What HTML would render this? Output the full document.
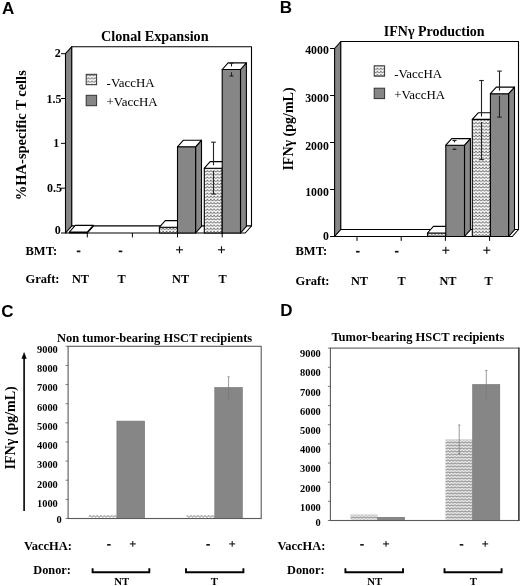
<!DOCTYPE html><html><head><meta charset="utf-8"><style>html,body{margin:0;padding:0;background:#fff;}svg{display:block;filter:grayscale(1);}</style></head><body>
<svg width="520" height="586" viewBox="0 0 520 586">
<defs>
<pattern id="wv" width="3.4" height="3.2" patternUnits="userSpaceOnUse"><rect width="3.4" height="3.2" fill="#fff"/><path d="M0,0.5 Q1.7,4.3 3.4,0.5" fill="none" stroke="#5a5a5a" stroke-width="0.85"/></pattern>
<pattern id="zz" width="3.5" height="3" patternUnits="userSpaceOnUse"><rect width="3.5" height="3" fill="#e6e6e6"/><path d="M0,0.8 L1.75,2.2 L3.5,0.8" fill="none" stroke="#707070" stroke-width="0.8"/></pattern>
<pattern id="zc" x="0" y="514.5" width="3.6" height="20" patternUnits="userSpaceOnUse"><rect width="3.6" height="20" fill="#fff"/><path d="M0,1.0 L1.8,2.8 L3.6,1.0" fill="none" stroke="#666" stroke-width="0.9"/></pattern>
</defs>
<rect width="520" height="586" fill="#fff"/>
<text x="2.1" y="13.7" font-family='"Liberation Sans", sans-serif' font-size="17" font-weight="bold" text-anchor="start" >A</text>
<text x="279.8" y="13.2" font-family='"Liberation Sans", sans-serif' font-size="17" font-weight="bold" text-anchor="start" >B</text>
<text x="1.3" y="317.2" font-family='"Liberation Sans", sans-serif' font-size="17" font-weight="bold" text-anchor="start" >C</text>
<text x="280.2" y="316.4" font-family='"Liberation Sans", sans-serif' font-size="17" font-weight="bold" text-anchor="start" >D</text>
<polygon points="65.5,53.7 71.8,46.7 71.8,226 65.5,233" fill="#868686" stroke="#000" stroke-width="1.1" stroke-linejoin="round" />
<polygon points="71.8,46.7 251.5,46.7 251.5,226 71.8,226" fill="#fff" stroke="#000" stroke-width="1.1" stroke-linejoin="round" />
<polygon points="65.5,233 71.8,226 251.5,226 245.2,233" fill="#fff" stroke="#000" stroke-width="1.1" stroke-linejoin="round" />
<line x1="61" y1="233" x2="65.5" y2="233" stroke="#000" stroke-width="1"/>
<text x="60.7" y="234.31" font-family='"Liberation Serif", serif' font-size="12.0" font-weight="bold" text-anchor="end" >0</text>
<line x1="61" y1="188.18" x2="65.5" y2="188.18" stroke="#000" stroke-width="1"/>
<text x="62.1" y="192.21" font-family='"Liberation Serif", serif' font-size="12.0" font-weight="bold" text-anchor="end" >0.5</text>
<line x1="61" y1="143.35" x2="65.5" y2="143.35" stroke="#000" stroke-width="1"/>
<text x="59.3" y="147.11" font-family='"Liberation Serif", serif' font-size="12.0" font-weight="bold" text-anchor="end" >1</text>
<line x1="61" y1="98.52" x2="65.5" y2="98.52" stroke="#000" stroke-width="1"/>
<text x="61.4" y="103.01" font-family='"Liberation Serif", serif' font-size="12.0" font-weight="bold" text-anchor="end" >1.5</text>
<line x1="61" y1="53.7" x2="65.5" y2="53.7" stroke="#000" stroke-width="1"/>
<text x="60.7" y="57.41" font-family='"Liberation Serif", serif' font-size="12.0" font-weight="bold" text-anchor="end" >2</text>
<line x1="87.3" y1="233" x2="87.3" y2="237.4" stroke="#000" stroke-width="1"/>
<line x1="132.4" y1="233" x2="132.4" y2="237.4" stroke="#000" stroke-width="1"/>
<line x1="177.5" y1="233" x2="177.5" y2="237.4" stroke="#000" stroke-width="1"/>
<line x1="222.2" y1="233" x2="222.2" y2="237.4" stroke="#000" stroke-width="1"/>
<polygon points="87.3,233 93.2,226.4 93.2,225.4 87.3,232" fill="url(#wv)" stroke="#000" stroke-width="1.1" stroke-linejoin="round" />
<polygon points="69.4,233 87.3,233 87.3,232 69.4,232" fill="url(#wv)" stroke="#000" stroke-width="1.1" stroke-linejoin="round" />
<polygon points="69.4,232 87.3,232 93.2,225.4 75.3,225.4" fill="#fff" stroke="#000" stroke-width="1.1" stroke-linejoin="round" />
<polygon points="177.5,233 183.4,226.4 183.4,220.6 177.5,227.2" fill="url(#wv)" stroke="#000" stroke-width="1.1" stroke-linejoin="round" />
<polygon points="159.4,233 177.5,233 177.5,227.2 159.4,227.2" fill="url(#wv)" stroke="#000" stroke-width="1.1" stroke-linejoin="round" />
<polygon points="159.4,227.2 177.5,227.2 183.4,220.6 165.3,220.6" fill="#fff" stroke="#000" stroke-width="1.1" stroke-linejoin="round" />
<polygon points="195.6,233 201.5,226.4 201.5,140.2 195.6,146.8" fill="#888888" stroke="#000" stroke-width="1.1" stroke-linejoin="round" />
<polygon points="177.5,233 195.6,233 195.6,146.8 177.5,146.8" fill="#868686" stroke="#000" stroke-width="1.1" stroke-linejoin="round" />
<polygon points="177.5,146.8 195.6,146.8 201.5,140.2 183.4,140.2" fill="#fff" stroke="#000" stroke-width="1.1" stroke-linejoin="round" />
<polygon points="222.2,233 228.1,226.4 228.1,161.6 222.2,168.2" fill="url(#wv)" stroke="#000" stroke-width="1.1" stroke-linejoin="round" />
<polygon points="204.3,233 222.2,233 222.2,168.2 204.3,168.2" fill="url(#wv)" stroke="#000" stroke-width="1.1" stroke-linejoin="round" />
<polygon points="204.3,168.2 222.2,168.2 228.1,161.6 210.2,161.6" fill="#fff" stroke="#000" stroke-width="1.1" stroke-linejoin="round" />
<polygon points="240.5,233 246.4,226.4 246.4,62.9 240.5,69.5" fill="#888888" stroke="#000" stroke-width="1.1" stroke-linejoin="round" />
<polygon points="222.2,233 240.5,233 240.5,69.5 222.2,69.5" fill="#868686" stroke="#000" stroke-width="1.1" stroke-linejoin="round" />
<polygon points="222.2,69.5 240.5,69.5 246.4,62.9 228.1,62.9" fill="#fff" stroke="#000" stroke-width="1.1" stroke-linejoin="round" />
<line x1="213.5" y1="142.2" x2="213.5" y2="165.2" stroke="#222" stroke-width="1.1"/>
<line x1="213.5" y1="171" x2="213.5" y2="194" stroke="#222" stroke-width="1.1"/>
<line x1="211.2" y1="142.2" x2="215.8" y2="142.2" stroke="#222" stroke-width="1.1"/>
<line x1="211.2" y1="194" x2="215.8" y2="194" stroke="#222" stroke-width="1.1"/>
<line x1="231.5" y1="63.2" x2="231.5" y2="66.5" stroke="#222" stroke-width="1.1"/>
<line x1="231.5" y1="72.2" x2="231.5" y2="76" stroke="#222" stroke-width="1.1"/>
<line x1="229.5" y1="63.2" x2="233.5" y2="63.2" stroke="#222" stroke-width="1.1"/>
<line x1="229.5" y1="76" x2="233.5" y2="76" stroke="#222" stroke-width="1.1"/>
<polygon points="334.6,48.5 340.8,41.5 340.8,229.5 334.6,236.5" fill="#868686" stroke="#000" stroke-width="1.1" stroke-linejoin="round" />
<polygon points="340.8,41.5 518.5,41.5 518.5,229.5 340.8,229.5" fill="#fff" stroke="#000" stroke-width="1.1" stroke-linejoin="round" />
<polygon points="334.6,236.5 340.8,229.5 518.5,229.5 512.3,236.5" fill="#fff" stroke="#000" stroke-width="1.1" stroke-linejoin="round" />
<line x1="330.1" y1="236.5" x2="334.6" y2="236.5" stroke="#000" stroke-width="1"/>
<text x="328.8" y="239.79" font-family='"Liberation Serif", serif' font-size="11.8" font-weight="bold" text-anchor="end" >0</text>
<line x1="330.1" y1="189.5" x2="334.6" y2="189.5" stroke="#000" stroke-width="1"/>
<text x="328.8" y="196.14" font-family='"Liberation Serif", serif' font-size="11.8" font-weight="bold" text-anchor="end" >1000</text>
<line x1="330.1" y1="142.5" x2="334.6" y2="142.5" stroke="#000" stroke-width="1"/>
<text x="328.8" y="149.74" font-family='"Liberation Serif", serif' font-size="11.8" font-weight="bold" text-anchor="end" >2000</text>
<line x1="330.1" y1="95.5" x2="334.6" y2="95.5" stroke="#000" stroke-width="1"/>
<text x="328.8" y="101.94" font-family='"Liberation Serif", serif' font-size="11.8" font-weight="bold" text-anchor="end" >3000</text>
<line x1="330.1" y1="48.5" x2="334.6" y2="48.5" stroke="#000" stroke-width="1"/>
<text x="328.8" y="54.44" font-family='"Liberation Serif", serif' font-size="11.8" font-weight="bold" text-anchor="end" >4000</text>
<line x1="357" y1="236.5" x2="357" y2="240.9" stroke="#000" stroke-width="1"/>
<line x1="401.2" y1="236.5" x2="401.2" y2="240.9" stroke="#000" stroke-width="1"/>
<line x1="445.4" y1="236.5" x2="445.4" y2="240.9" stroke="#000" stroke-width="1"/>
<line x1="489.6" y1="236.5" x2="489.6" y2="240.9" stroke="#000" stroke-width="1"/>
<polygon points="445.8,236.5 451.7,229.9 451.7,226.4 445.8,233" fill="url(#wv)" stroke="#000" stroke-width="1.1" stroke-linejoin="round" />
<polygon points="427.5,236.5 445.8,236.5 445.8,233 427.5,233" fill="url(#wv)" stroke="#000" stroke-width="1.1" stroke-linejoin="round" />
<polygon points="427.5,233 445.8,233 451.7,226.4 433.4,226.4" fill="#fff" stroke="#000" stroke-width="1.1" stroke-linejoin="round" />
<polygon points="464.5,236.5 470.4,229.9 470.4,138.6 464.5,145.2" fill="#888888" stroke="#000" stroke-width="1.1" stroke-linejoin="round" />
<polygon points="445.8,236.5 464.5,236.5 464.5,145.2 445.8,145.2" fill="#868686" stroke="#000" stroke-width="1.1" stroke-linejoin="round" />
<polygon points="445.8,145.2 464.5,145.2 470.4,138.6 451.7,138.6" fill="#fff" stroke="#000" stroke-width="1.1" stroke-linejoin="round" />
<polygon points="490.4,236.5 496.3,229.9 496.3,112.8 490.4,119.4" fill="url(#wv)" stroke="#000" stroke-width="1.1" stroke-linejoin="round" />
<polygon points="472.3,236.5 490.4,236.5 490.4,119.4 472.3,119.4" fill="url(#wv)" stroke="#000" stroke-width="1.1" stroke-linejoin="round" />
<polygon points="472.3,119.4 490.4,119.4 496.3,112.8 478.2,112.8" fill="#fff" stroke="#000" stroke-width="1.1" stroke-linejoin="round" />
<polygon points="508.6,236.5 514.5,229.9 514.5,87.1 508.6,93.7" fill="#888888" stroke="#000" stroke-width="1.1" stroke-linejoin="round" />
<polygon points="490.4,236.5 508.6,236.5 508.6,93.7 490.4,93.7" fill="#868686" stroke="#000" stroke-width="1.1" stroke-linejoin="round" />
<polygon points="490.4,93.7 508.6,93.7 514.5,87.1 496.3,87.1" fill="#fff" stroke="#000" stroke-width="1.1" stroke-linejoin="round" />
<line x1="454.5" y1="140.5" x2="454.5" y2="142.4" stroke="#222" stroke-width="1.1"/>
<line x1="454.5" y1="148.2" x2="454.5" y2="149.4" stroke="#222" stroke-width="1.1"/>
<line x1="452.5" y1="140.5" x2="456.5" y2="140.5" stroke="#222" stroke-width="1.1"/>
<line x1="452.5" y1="149.4" x2="456.5" y2="149.4" stroke="#222" stroke-width="1.1"/>
<line x1="481.5" y1="80.5" x2="481.5" y2="116.6" stroke="#222" stroke-width="1.1"/>
<line x1="481.5" y1="122" x2="481.5" y2="159.6" stroke="#222" stroke-width="1.1"/>
<line x1="479.2" y1="80.5" x2="483.8" y2="80.5" stroke="#222" stroke-width="1.1"/>
<line x1="479.2" y1="159.6" x2="483.8" y2="159.6" stroke="#222" stroke-width="1.1"/>
<line x1="499.5" y1="71.1" x2="499.5" y2="90.7" stroke="#222" stroke-width="1.1"/>
<line x1="499.5" y1="95.9" x2="499.5" y2="117.1" stroke="#222" stroke-width="1.1"/>
<line x1="497.2" y1="71.1" x2="501.8" y2="71.1" stroke="#222" stroke-width="1.1"/>
<line x1="497.2" y1="117.1" x2="501.8" y2="117.1" stroke="#222" stroke-width="1.1"/>
<text x="154.8" y="41.3" font-family='"Liberation Serif", serif' font-size="14.2" font-weight="bold" text-anchor="middle" >Clonal Expansion</text>
<text x="434.2" y="35.8" font-family='"Liberation Serif", serif' font-size="14" font-weight="bold" text-anchor="middle" >IFN&#947; Production</text>
<text x="0" y="0" font-family='"Liberation Serif", serif' font-size="14.5" font-weight="bold" text-anchor="middle" transform="translate(26.4,135.2) rotate(-90)">%HA-specific T cells</text>
<text x="0" y="0" font-family='"Liberation Serif", serif' font-size="14" font-weight="bold" text-anchor="middle" transform="translate(292.6,129.0) rotate(-90)">IFN&#947; (pg/mL)</text>
<rect x="86.2" y="74.3" width="10.4" height="10.4" fill="url(#wv)" stroke="#333" stroke-width="1"/>
<rect x="86.2" y="95.3" width="10.4" height="10.4" fill="#868686" stroke="#333" stroke-width="1"/>
<text x="106.6" y="86.7" font-family='"Liberation Serif", serif' font-size="12.9" font-weight="normal" text-anchor="start" >-VaccHA</text>
<text x="106.6" y="105.9" font-family='"Liberation Serif", serif' font-size="12.9" font-weight="normal" text-anchor="start" >+VaccHA</text>
<rect x="374.2" y="65.8" width="10.4" height="10.4" fill="url(#wv)" stroke="#333" stroke-width="1"/>
<rect x="374.2" y="88.2" width="10.4" height="10.4" fill="#868686" stroke="#333" stroke-width="1"/>
<text x="394.2" y="78" font-family='"Liberation Serif", serif' font-size="12.9" font-weight="normal" text-anchor="start" >-VaccHA</text>
<text x="394.2" y="98.7" font-family='"Liberation Serif", serif' font-size="12.9" font-weight="normal" text-anchor="start" >+VaccHA</text>
<text x="25.5" y="254.6" font-family='"Liberation Serif", serif' font-size="12.5" font-weight="bold" text-anchor="start" >BMT:</text>
<text x="25.5" y="283.4" font-family='"Liberation Serif", serif' font-size="12.5" font-weight="bold" text-anchor="start" >Graft:</text>
<text x="295.5" y="255.2" font-family='"Liberation Serif", serif' font-size="12.5" font-weight="bold" text-anchor="start" >BMT:</text>
<text x="295.5" y="285.4" font-family='"Liberation Serif", serif' font-size="12.5" font-weight="bold" text-anchor="start" >Graft:</text>
<rect x="76.8" y="250.55" width="3.6" height="1.7" fill="#111"/>
<rect x="118.7" y="250.55" width="3.6" height="1.7" fill="#111"/>
<rect x="356" y="250.85" width="3.6" height="1.7" fill="#111"/>
<rect x="394.9" y="250.85" width="3.6" height="1.7" fill="#111"/>
<line x1="176" y1="249.8" x2="183" y2="249.8" stroke="#111" stroke-width="1.15"/>
<line x1="179.5" y1="246.3" x2="179.5" y2="253.3" stroke="#111" stroke-width="1.15"/>
<line x1="218" y1="249.8" x2="225" y2="249.8" stroke="#111" stroke-width="1.15"/>
<line x1="221.5" y1="246.3" x2="221.5" y2="253.3" stroke="#111" stroke-width="1.15"/>
<line x1="442.3" y1="250.2" x2="449.3" y2="250.2" stroke="#111" stroke-width="1.15"/>
<line x1="445.8" y1="246.7" x2="445.8" y2="253.7" stroke="#111" stroke-width="1.15"/>
<line x1="483.3" y1="250.2" x2="490.3" y2="250.2" stroke="#111" stroke-width="1.15"/>
<line x1="486.8" y1="246.7" x2="486.8" y2="253.7" stroke="#111" stroke-width="1.15"/>
<text x="80.5" y="283.4" font-family='"Liberation Serif", serif' font-size="12.3" font-weight="bold" text-anchor="middle" >NT</text>
<text x="121.7" y="283.4" font-family='"Liberation Serif", serif' font-size="12.3" font-weight="bold" text-anchor="middle" >T</text>
<text x="180.6" y="283.4" font-family='"Liberation Serif", serif' font-size="12.3" font-weight="bold" text-anchor="middle" >NT</text>
<text x="222.7" y="283.4" font-family='"Liberation Serif", serif' font-size="12.3" font-weight="bold" text-anchor="middle" >T</text>
<text x="359.5" y="285.2" font-family='"Liberation Serif", serif' font-size="12.3" font-weight="bold" text-anchor="middle" >NT</text>
<text x="401.5" y="285.2" font-family='"Liberation Serif", serif' font-size="12.3" font-weight="bold" text-anchor="middle" >T</text>
<text x="448" y="285.2" font-family='"Liberation Serif", serif' font-size="12.3" font-weight="bold" text-anchor="middle" >NT</text>
<text x="488.5" y="285.2" font-family='"Liberation Serif", serif' font-size="12.3" font-weight="bold" text-anchor="middle" >T</text>
<rect x="68.1" y="346.3" width="193.1" height="172.2" fill="#fff" stroke="#5a5a5a" stroke-width="1.1"/>
<line x1="65.6" y1="518.5" x2="68.1" y2="518.5" stroke="#5a5a5a" stroke-width="0.8"/>
<line x1="65.6" y1="499.37" x2="68.1" y2="499.37" stroke="#5a5a5a" stroke-width="0.8"/>
<line x1="65.6" y1="480.23" x2="68.1" y2="480.23" stroke="#5a5a5a" stroke-width="0.8"/>
<line x1="65.6" y1="461.1" x2="68.1" y2="461.1" stroke="#5a5a5a" stroke-width="0.8"/>
<line x1="65.6" y1="441.97" x2="68.1" y2="441.97" stroke="#5a5a5a" stroke-width="0.8"/>
<line x1="65.6" y1="422.83" x2="68.1" y2="422.83" stroke="#5a5a5a" stroke-width="0.8"/>
<line x1="65.6" y1="403.7" x2="68.1" y2="403.7" stroke="#5a5a5a" stroke-width="0.8"/>
<line x1="65.6" y1="384.57" x2="68.1" y2="384.57" stroke="#5a5a5a" stroke-width="0.8"/>
<line x1="65.6" y1="365.43" x2="68.1" y2="365.43" stroke="#5a5a5a" stroke-width="0.8"/>
<line x1="65.6" y1="346.3" x2="68.1" y2="346.3" stroke="#5a5a5a" stroke-width="0.8"/>
<text x="61.6" y="522.5" font-family='"Liberation Serif", serif' font-size="10.4" font-weight="bold" text-anchor="end" >0</text>
<text x="57.8" y="506.86" font-family='"Liberation Serif", serif' font-size="10.4" font-weight="bold" text-anchor="end" >1000</text>
<text x="57.8" y="487.59" font-family='"Liberation Serif", serif' font-size="10.4" font-weight="bold" text-anchor="end" >2000</text>
<text x="57.8" y="468.32" font-family='"Liberation Serif", serif' font-size="10.4" font-weight="bold" text-anchor="end" >3000</text>
<text x="57.8" y="449.05" font-family='"Liberation Serif", serif' font-size="10.4" font-weight="bold" text-anchor="end" >4000</text>
<text x="57.8" y="429.78" font-family='"Liberation Serif", serif' font-size="10.4" font-weight="bold" text-anchor="end" >5000</text>
<text x="57.8" y="410.51" font-family='"Liberation Serif", serif' font-size="10.4" font-weight="bold" text-anchor="end" >6000</text>
<text x="57.8" y="391.24" font-family='"Liberation Serif", serif' font-size="10.4" font-weight="bold" text-anchor="end" >7000</text>
<text x="57.8" y="371.97" font-family='"Liberation Serif", serif' font-size="10.4" font-weight="bold" text-anchor="end" >8000</text>
<text x="57.8" y="352.7" font-family='"Liberation Serif", serif' font-size="10.4" font-weight="bold" text-anchor="end" >9000</text>
<rect x="88.75" y="512.8" width="28.15" height="5.7" fill="url(#zc)"/>
<rect x="116.9" y="421.1" width="27.7" height="97.4" fill="#868686" stroke="#6e6e6e" stroke-width="0.6"/>
<rect x="186.6" y="514.7" width="28.2" height="3.8" fill="url(#zc)"/>
<rect x="214.8" y="387.5" width="27.5" height="131" fill="#868686" stroke="#6e6e6e" stroke-width="0.6"/>
<line x1="228.6" y1="376.8" x2="228.6" y2="399.3" stroke="#7a7a7a" stroke-width="0.75"/>
<line x1="227.5" y1="376.8" x2="229.7" y2="376.8" stroke="#7a7a7a" stroke-width="0.75"/>
<line x1="227.5" y1="399.3" x2="229.7" y2="399.3" stroke="#7a7a7a" stroke-width="0.75"/>
<line x1="68.1" y1="518.5" x2="261.2" y2="518.5" stroke="#5a5a5a" stroke-width="1.2"/>
<rect x="330.4" y="348.1" width="188.4" height="172.4" fill="#fff" stroke="#5a5a5a" stroke-width="1.1"/>
<line x1="327.9" y1="520.5" x2="330.4" y2="520.5" stroke="#5a5a5a" stroke-width="0.8"/>
<line x1="327.9" y1="501.34" x2="330.4" y2="501.34" stroke="#5a5a5a" stroke-width="0.8"/>
<line x1="327.9" y1="482.19" x2="330.4" y2="482.19" stroke="#5a5a5a" stroke-width="0.8"/>
<line x1="327.9" y1="463.03" x2="330.4" y2="463.03" stroke="#5a5a5a" stroke-width="0.8"/>
<line x1="327.9" y1="443.88" x2="330.4" y2="443.88" stroke="#5a5a5a" stroke-width="0.8"/>
<line x1="327.9" y1="424.72" x2="330.4" y2="424.72" stroke="#5a5a5a" stroke-width="0.8"/>
<line x1="327.9" y1="405.57" x2="330.4" y2="405.57" stroke="#5a5a5a" stroke-width="0.8"/>
<line x1="327.9" y1="386.41" x2="330.4" y2="386.41" stroke="#5a5a5a" stroke-width="0.8"/>
<line x1="327.9" y1="367.26" x2="330.4" y2="367.26" stroke="#5a5a5a" stroke-width="0.8"/>
<line x1="327.9" y1="348.1" x2="330.4" y2="348.1" stroke="#5a5a5a" stroke-width="0.8"/>
<text x="320.8" y="526.3" font-family='"Liberation Serif", serif' font-size="10.4" font-weight="bold" text-anchor="end" >0</text>
<text x="320.8" y="510.69" font-family='"Liberation Serif", serif' font-size="10.4" font-weight="bold" text-anchor="end" >1000</text>
<text x="320.8" y="491.51" font-family='"Liberation Serif", serif' font-size="10.4" font-weight="bold" text-anchor="end" >2000</text>
<text x="320.8" y="472.33" font-family='"Liberation Serif", serif' font-size="10.4" font-weight="bold" text-anchor="end" >3000</text>
<text x="320.8" y="453.15" font-family='"Liberation Serif", serif' font-size="10.4" font-weight="bold" text-anchor="end" >4000</text>
<text x="320.8" y="433.97" font-family='"Liberation Serif", serif' font-size="10.4" font-weight="bold" text-anchor="end" >5000</text>
<text x="320.8" y="414.79" font-family='"Liberation Serif", serif' font-size="10.4" font-weight="bold" text-anchor="end" >6000</text>
<text x="320.8" y="395.61" font-family='"Liberation Serif", serif' font-size="10.4" font-weight="bold" text-anchor="end" >7000</text>
<text x="320.8" y="376.43" font-family='"Liberation Serif", serif' font-size="10.4" font-weight="bold" text-anchor="end" >8000</text>
<text x="320.8" y="357.25" font-family='"Liberation Serif", serif' font-size="10.4" font-weight="bold" text-anchor="end" >9000</text>
<rect x="350.5" y="514.7" width="27.2" height="5.8" fill="url(#zz)"/>
<rect x="377.7" y="517.3" width="26.9" height="3.2" fill="#868686" stroke="#6e6e6e" stroke-width="0.6"/>
<rect x="445.5" y="439.6" width="27.2" height="80.9" fill="url(#zz)"/>
<rect x="472.7" y="384.5" width="27.1" height="136" fill="#868686" stroke="#6e6e6e" stroke-width="0.6"/>
<line x1="459.2" y1="425" x2="459.2" y2="453.5" stroke="#7a7a7a" stroke-width="0.75"/>
<line x1="458.1" y1="425" x2="460.3" y2="425" stroke="#7a7a7a" stroke-width="0.75"/>
<line x1="458.1" y1="453.5" x2="460.3" y2="453.5" stroke="#7a7a7a" stroke-width="0.75"/>
<line x1="486.3" y1="370.5" x2="486.3" y2="398.8" stroke="#7a7a7a" stroke-width="0.75"/>
<line x1="485.2" y1="370.5" x2="487.4" y2="370.5" stroke="#7a7a7a" stroke-width="0.75"/>
<line x1="485.2" y1="398.8" x2="487.4" y2="398.8" stroke="#7a7a7a" stroke-width="0.75"/>
<line x1="330.4" y1="520.5" x2="518.8" y2="520.5" stroke="#5a5a5a" stroke-width="1.2"/>
<line x1="518.9" y1="347.6" x2="518.9" y2="521" stroke="#333" stroke-width="1.3"/>
<text x="154.6" y="341.5" font-family='"Liberation Serif", serif' font-size="12.5" font-weight="bold" text-anchor="middle" >Non tumor-bearing HSCT recipients</text>
<text x="417.9" y="341.3" font-family='"Liberation Serif", serif' font-size="12.5" font-weight="bold" text-anchor="middle" >Tumor-bearing HSCT recipients</text>
<line x1="24.1" y1="357" x2="24.1" y2="511" stroke="#000" stroke-width="1.6"/>
<polygon points="24.1,352.6 21.9,358.6 26.3,358.6" fill="#000" stroke="#000" stroke-width="0.5" stroke-linejoin="round" />
<text x="0" y="0" font-family='"Liberation Serif", serif' font-size="14" font-weight="bold" text-anchor="middle" transform="translate(15.2,427.8) rotate(-90)">IFN&#947; (pg/mL)</text>
<text x="24" y="550" font-family='"Liberation Serif", serif' font-size="12.45" font-weight="bold" text-anchor="start" >VaccHA:</text>
<text x="33.3" y="573.7" font-family='"Liberation Serif", serif' font-size="12.3" font-weight="bold" text-anchor="start" >Donor:</text>
<text x="277.5" y="550" font-family='"Liberation Serif", serif' font-size="12.45" font-weight="bold" text-anchor="start" >VaccHA:</text>
<text x="287" y="573.7" font-family='"Liberation Serif", serif' font-size="12.3" font-weight="bold" text-anchor="start" >Donor:</text>
<rect x="107.1" y="544.05" width="3.6" height="1.6" fill="#111"/>
<rect x="206.3" y="544.05" width="3.6" height="1.6" fill="#111"/>
<rect x="360.2" y="544.05" width="3.6" height="1.6" fill="#111"/>
<rect x="459.7" y="544.05" width="3.6" height="1.6" fill="#111"/>
<line x1="129.8" y1="543.9" x2="135.8" y2="543.9" stroke="#111" stroke-width="1.05"/>
<line x1="132.8" y1="541" x2="132.8" y2="546.8" stroke="#111" stroke-width="1.05"/>
<line x1="229.2" y1="543.9" x2="235.2" y2="543.9" stroke="#111" stroke-width="1.05"/>
<line x1="232.2" y1="541" x2="232.2" y2="546.8" stroke="#111" stroke-width="1.05"/>
<line x1="383" y1="543.9" x2="389" y2="543.9" stroke="#111" stroke-width="1.05"/>
<line x1="386" y1="541" x2="386" y2="546.8" stroke="#111" stroke-width="1.05"/>
<line x1="482.2" y1="543.9" x2="488.2" y2="543.9" stroke="#111" stroke-width="1.05"/>
<line x1="485.2" y1="541" x2="485.2" y2="546.8" stroke="#111" stroke-width="1.05"/>
<path d="M92.6,568.2 L92.6,572.3 L149.3,572.3 L149.3,568.2" fill="none" stroke="#000" stroke-width="1.9"/>
<path d="M186,568.2 L186,572.3 L243.4,572.3 L243.4,568.2" fill="none" stroke="#000" stroke-width="1.9"/>
<path d="M345.4,568.2 L345.4,572.3 L403,572.3 L403,568.2" fill="none" stroke="#000" stroke-width="1.9"/>
<path d="M444.5,568.2 L444.5,572.3 L501.6,572.3 L501.6,568.2" fill="none" stroke="#000" stroke-width="1.9"/>
<text x="121.7" y="584.6" font-family='"Liberation Serif", serif' font-size="10.8" font-weight="bold" text-anchor="middle" >NT</text>
<text x="214.3" y="584.6" font-family='"Liberation Serif", serif' font-size="10.8" font-weight="bold" text-anchor="middle" >T</text>
<text x="374.8" y="584.6" font-family='"Liberation Serif", serif' font-size="10.8" font-weight="bold" text-anchor="middle" >NT</text>
<text x="473.4" y="584.6" font-family='"Liberation Serif", serif' font-size="10.8" font-weight="bold" text-anchor="middle" >T</text>
</svg></body></html>
